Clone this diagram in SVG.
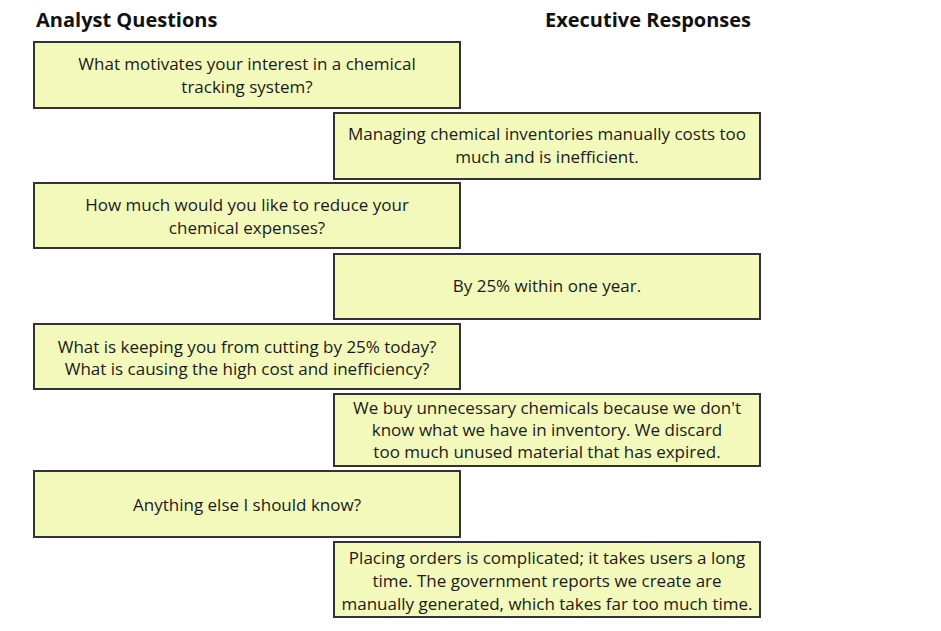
<svg xmlns="http://www.w3.org/2000/svg" width="941" height="631" viewBox="0 0 941 631">
<style>
.box{fill:#f3f9bb;stroke:#333333;stroke-width:2}
.t{font-family:"Open Sans","Liberation Sans",sans-serif;font-size:17px;fill:#1a1a1a;text-anchor:middle}
.h{font-family:"Open Sans","Liberation Sans",sans-serif;font-size:20px;font-weight:bold;fill:#111}
</style>
<rect width="941" height="631" fill="#ffffff"/>
<text class="h" x="36" y="27">Analyst Questions</text>
<text class="h" x="545" y="27">Executive Responses</text>
<g id="q1"><rect class="box" x="34" y="42" width="426" height="66"/>
<text class="t" x="247" y="70">What motivates your interest in a chemical</text>
<text class="t" x="247" y="93">tracking system?</text></g>
<g id="r1"><rect class="box" x="334" y="113" width="426" height="66"/>
<text class="t" x="547" y="140">Managing chemical inventories manually costs too</text>
<text class="t" x="547" y="163">much and is inefficient.</text></g>
<g id="q2"><rect class="box" x="34" y="183" width="426" height="65"/>
<text class="t" x="247" y="211">How much would you like to reduce your</text>
<text class="t" x="247" y="234">chemical expenses?</text></g>
<g id="r2"><rect class="box" x="334" y="254" width="426" height="65"/>
<text class="t" x="547" y="292">By 25% within one year.</text></g>
<g id="q3"><rect class="box" x="34" y="324" width="426" height="65"/>
<text class="t" x="247" y="353">What is keeping you from cutting by 25% today?</text>
<text class="t" x="247" y="375">What is causing the high cost and inefficiency?</text></g>
<g id="r3"><rect class="box" x="334" y="394" width="426" height="72"/>
<text class="t" x="547" y="414">We buy unnecessary chemicals because we don't</text>
<text class="t" x="547" y="436">know what we have in inventory. We discard</text>
<text class="t" x="547" y="458">too much unused material that has expired.</text></g>
<g id="q4"><rect class="box" x="34" y="471" width="426" height="66"/>
<text class="t" x="247" y="511">Anything else I should know?</text></g>
<g id="r4"><rect class="box" x="334" y="542" width="426" height="75"/>
<text class="t" x="547" y="564">Placing orders is complicated; it takes users a long</text>
<text class="t" x="547" y="587">time. The government reports we create are</text>
<text class="t" x="547" y="610">manually generated, which takes far too much time.</text></g>
<g id="connectors"></g>
</svg>
